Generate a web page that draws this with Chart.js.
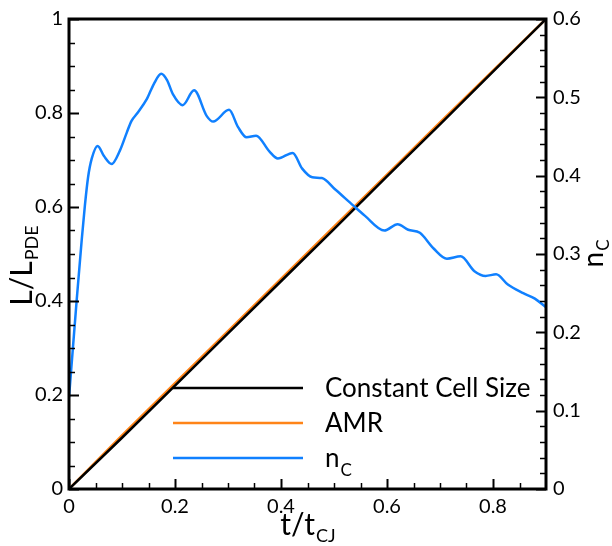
<!DOCTYPE html>
<html><head><meta charset="utf-8">
<script src="https://cdn.jsdelivr.net/npm/chart.js@4"></script>
<style>html,body{margin:0;padding:0;background:#fff}#wrap{width:612px;height:546px;position:relative}</style>
</head><body><div id="wrap"><canvas id="c"></canvas></div>
<script>
// ---- data ----
const constT = [0, 0.1, 0.2, 0.3, 0.4, 0.5, 0.6, 0.7, 0.8, 0.9];
const constL = [0, 0.109, 0.220, 0.331, 0.442, 0.553, 0.665, 0.776, 0.888, 1.0];
const amrT = [0, 0.1, 0.2, 0.3, 0.4, 0.5, 0.6, 0.7, 0.8, 0.9];
const amrL = [0, 0.114, 0.225, 0.336, 0.447, 0.558, 0.669, 0.780, 0.890, 1.0];
const ncT = [0, 0.0145, 0.024, 0.030, 0.036, 0.043, 0.054, 0.066, 0.0805, 0.096, 0.109, 0.118, 0.128,
  0.147, 0.160, 0.174, 0.185, 0.196, 0.2145, 0.236, 0.26, 0.272, 0.302, 0.319, 0.335, 0.353, 0.378,
  0.394, 0.422, 0.440, 0.459, 0.477, 0.503, 0.536, 0.558, 0.595, 0.620, 0.640, 0.662, 0.688, 0.713,
  0.739, 0.765, 0.786, 0.806, 0.828, 0.857, 0.879, 0.9];
const ncV = [0.117, 0.241, 0.318, 0.362, 0.398, 0.422, 0.438, 0.425, 0.415, 0.432, 0.455, 0.470, 0.479,
  0.498, 0.517, 0.530, 0.522, 0.504, 0.490, 0.509, 0.476, 0.469, 0.484, 0.462, 0.449, 0.451, 0.431,
  0.422, 0.429, 0.409, 0.398, 0.397, 0.382, 0.362, 0.349, 0.330, 0.338, 0.331, 0.327, 0.307, 0.294,
  0.297, 0.278, 0.272, 0.274, 0.261, 0.250, 0.243, 0.232];
const xMajorTicks = [0, 0.2, 0.4, 0.6, 0.8];
const xMinorTicks = [0.05, 0.1, 0.15, 0.25, 0.3, 0.35, 0.45, 0.5, 0.55, 0.65, 0.7, 0.75, 0.85];
const yLMajorTicks = [0, 0.2, 0.4, 0.6, 0.8, 1];
const yLMinorTicks = [0.05, 0.1, 0.15, 0.25, 0.3, 0.35, 0.45, 0.5, 0.55, 0.65, 0.7, 0.75, 0.85, 0.9, 0.95];
const yRMajorTicks = [0, 0.1, 0.2, 0.3, 0.4, 0.5, 0.6];
const yRMinorTicks = [0.02, 0.04, 0.06, 0.08, 0.12, 0.14, 0.16, 0.18, 0.22, 0.24, 0.26, 0.28, 0.32, 0.34, 0.36, 0.38, 0.42, 0.44, 0.46, 0.48, 0.52, 0.54, 0.56, 0.58];
const legendItems = [
  {main: 'Constant Cell Size', sub: '', color: '#000000'},
  {main: 'AMR', sub: '', color: '#ff8418'},
  {main: 'n', sub: 'C', color: '#1080ff'}
];

const FONT = 'Lato, "Open Sans", sans-serif';
const pts = (xs, ys) => xs.map((x, i) => ({x: x, y: ys[i]}));

function subText(ctx, main, sub, x, y, size, subSize, align, drop) {
  ctx.font = size + 'px ' + FONT;
  const w1 = ctx.measureText(main).width;
  ctx.font = subSize + 'px ' + FONT;
  const w2 = ctx.measureText(sub).width;
  let sx = x;
  if (align === 'center') sx = x - (w1 + w2) / 2;
  ctx.textAlign = 'left';
  ctx.textBaseline = 'alphabetic';
  ctx.font = size + 'px ' + FONT;
  ctx.fillText(main, sx, y);
  ctx.font = subSize + 'px ' + FONT;
  ctx.fillText(sub, sx + w1 + 1, y + drop);
}

const deco = {
  id: 'deco',
  afterDatasetsDraw(chart) {
    const {ctx, chartArea: a, scales} = chart;
    ctx.save();
    ctx.strokeStyle = '#000';
    ctx.lineCap = 'butt';
    const tick = (vals, scale, side, len, lw) => {
      ctx.lineWidth = lw;
      vals.forEach(v => {
        const p = Math.round(scale.getPixelForValue(v)) + 0.5;
        ctx.beginPath();
        if (side === 'bottom') { ctx.moveTo(p, a.bottom); ctx.lineTo(p, a.bottom - len); }
        if (side === 'left') { ctx.moveTo(a.left, p); ctx.lineTo(a.left + len, p); }
        if (side === 'right') { ctx.moveTo(a.right, p); ctx.lineTo(a.right - len, p); }
        ctx.stroke();
      });
    };
    tick(xMajorTicks, scales.x, 'bottom', 10, 2);
    tick(xMinorTicks, scales.x, 'bottom', 6, 1.5);
    tick(yLMajorTicks, scales.y, 'left', 10, 2);
    tick(yLMinorTicks, scales.y, 'left', 6, 1.5);
    tick(yRMajorTicks, scales.y2, 'right', 10, 2);
    tick(yRMinorTicks, scales.y2, 'right', 6, 1.5);
    // frame
    ctx.lineWidth = 3;
    ctx.strokeRect(a.left, a.top, a.right - a.left, a.bottom - a.top);
    // legend
    const rows = [388, 423, 458];
    legendItems.forEach((it, i) => {
      ctx.strokeStyle = it.color;
      ctx.lineWidth = 2.5;
      ctx.beginPath();
      ctx.moveTo(173, rows[i]); ctx.lineTo(303, rows[i]);
      ctx.stroke();
      ctx.fillStyle = '#000';
      subText(ctx, it.main, it.sub, 325, rows[i] + 9, 26, 17, 'left', 9);
    });
    // axis titles
    ctx.fillStyle = '#000';
    subText(ctx, 't/t', 'CJ', (a.left + a.right) / 2, 535, 30, 18, 'center', 7);
    ctx.save();
    ctx.translate(32, 266);
    ctx.rotate(-Math.PI / 2);
    subText(ctx, 'L/L', 'PDE', 0, 0, 30, 18, 'center', 6);
    ctx.restore();
    ctx.save();
    ctx.translate(603, (a.top + a.bottom) / 2);
    ctx.rotate(-Math.PI / 2);
    subText(ctx, 'n', 'C', 0, 0, 28, 17, 'center', 6);
    ctx.restore();
    ctx.restore();
  }
};

const tickFont = {family: FONT, size: 20};
new Chart(document.getElementById('c'), {
  type: 'line',
  data: {
    datasets: [
      {label: 'n_C', data: pts(ncT, ncV), yAxisID: 'y2', borderColor: '#1080ff', borderWidth: 2.5,
       pointRadius: 0, cubicInterpolationMode: 'monotone', order: 0},
      {label: 'Constant Cell Size', data: pts(constT, constL), yAxisID: 'y', borderColor: '#000000',
       borderWidth: 2.5, pointRadius: 0, tension: 0, order: 1},
      {label: 'AMR', data: pts(amrT, amrL), yAxisID: 'y', borderColor: '#ff8418',
       borderWidth: 2.5, pointRadius: 0, tension: 0, order: 2}
    ]
  },
  options: {
    responsive: true, maintainAspectRatio: false, animation: false,
    layout: {padding: {top: 18, left: 0, right: 0, bottom: 0}},
    plugins: {legend: {display: false}, tooltip: {enabled: false}},
    scales: {
      x: {type: 'linear', min: 0, max: 0.9,
          afterBuildTicks: s => { s.ticks = xMajorTicks.map(v => ({value: v})); },
          afterFit: s => { s.height = 57; },
          grid: {display: false, drawTicks: false}, border: {display: false},
          ticks: {font: tickFont, color: '#000', padding: 6, maxRotation: 0, callback: v => String(v)}},
      y: {type: 'linear', position: 'left', min: 0, max: 1,
          afterBuildTicks: s => { s.ticks = yLMajorTicks.map(v => ({value: v})); },
          afterFit: s => { s.width = 69; },
          grid: {display: false, drawTicks: false}, border: {display: false},
          ticks: {font: tickFont, color: '#000', padding: 6, callback: v => String(v)}},
      y2: {type: 'linear', position: 'right', min: 0, max: 0.6,
          afterBuildTicks: s => { s.ticks = yRMajorTicks.map(v => ({value: v})); },
          afterFit: s => { s.width = 66; },
          grid: {display: false, drawTicks: false}, border: {display: false},
          ticks: {font: tickFont, color: '#000', padding: 7, callback: v => String(v)}}
    }
  },
  plugins: [deco]
});
</script>
</body></html>
